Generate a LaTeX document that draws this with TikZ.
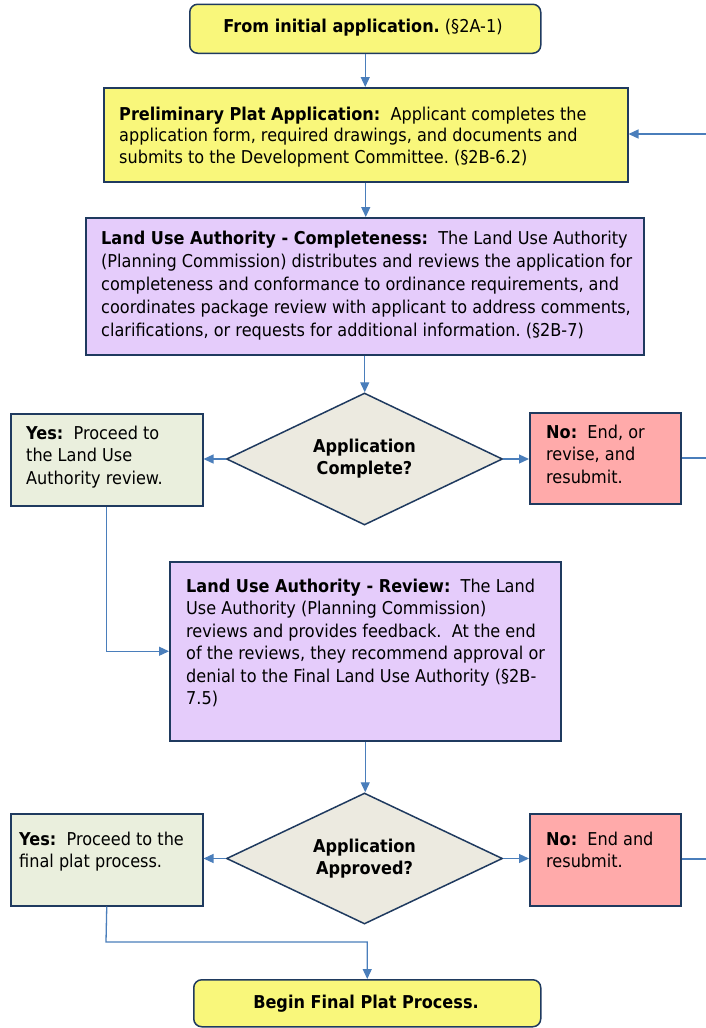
\documentclass[tikz,border=0pt]{standalone}
\usepackage{fontspec}
\setmainfont{DejaVu Sans}[FakeStretch=0.91]
\usetikzlibrary{arrows.meta,shapes.geometric}

\definecolor{edgeblue}{HTML}{4A7EBB}
\definecolor{frame}{HTML}{1F3A5F}
\definecolor{paleyellow}{HTML}{F9F77B}
\definecolor{lilac}{HTML}{E5CCFB}
\definecolor{rose}{HTML}{FFAAAA}
\definecolor{sage}{HTML}{EAEFDD}
\definecolor{stone}{HTML}{ECEAE0}

\newcommand{\gap}{\ \ }

\tikzset{
  panel/.style={draw=frame, line width=1.5pt, inner sep=0pt, anchor=north west},
  roundpanel/.style={panel, rounded corners=8pt},
  decision/.style={diamond, aspect=2.1, draw=frame, line width=1.5pt, fill=stone, inner sep=0pt,
    minimum width=276pt, align=center,
    font=\fontsize{17.7}{22}\selectfont\bfseries},
  label/.style={inner sep=0pt, anchor=base west, font=\fontsize{17.7}{22.5}\selectfont},
  caption/.style={inner sep=0pt, anchor=base, font=\fontsize{17.7}{22}\selectfont},
  link/.style={draw=edgeblue, line width=1.3pt},
  flow/.style={link, -{Triangle[length=10pt,width=9pt]}}
}

\begin{document}
\frenchspacing
\begin{tikzpicture}[x=1pt,y=-1pt]
\fill[white] (0,0) rectangle (706,1028);
\useasboundingbox (0,0) rectangle (706,1028);

% start and end terminals
\node[roundpanel, fill=paleyellow, minimum width=351pt, minimum height=49pt] (start) at (189,3.5) {};
\node[caption] (starttext) at (363,32) {{\bfseries From initial application.} (§2A-1)};

\node[roundpanel, fill=paleyellow, minimum width=347pt, minimum height=47pt] (finish) at (193,979) {};
\node[caption] (finishtext) at (366,1008) {\bfseries Begin Final Plat Process.};

% process boxes
\node[panel, fill=paleyellow, minimum width=524pt, minimum height=94pt] (prelim) at (103,87) {};
\node[label] (prelimtext) at (119,120) {\parbox[t]{500pt}{\raggedright\fontsize{17.7}{21.7}\selectfont
  {\bfseries Preliminary Plat Application:}\gap Applicant completes the\\
  application form, required drawings, and documents and\\
  submits to the Development Committee. (§2B-6.2)}};

\node[panel, fill=lilac, minimum width=558pt, minimum height=137pt] (complete) at (85,217) {};
\node[label] (completetext) at (101,244) {\parbox[t]{545pt}{\raggedright\fontsize{17.7}{23.2}\selectfont
  {\bfseries Land Use Authority - Completeness:}\gap The Land Use Authority\\
  (Planning Commission) distributes and reviews the application for\\
  completeness and conformance to ordinance requirements, and\\
  coordinates package review with applicant to address comments,\\
  clarifications, or requests for additional information. (§2B-7)}};

\node[panel, fill=lilac, minimum width=391pt, minimum height=179pt] (review) at (169,561) {};
\node[label] (reviewtext) at (186,592) {\parbox[t]{370pt}{\raggedright
  {\bfseries Land Use Authority - Review:}\gap The Land\\
  Use Authority (Planning Commission)\\
  reviews and provides feedback.\gap At the end\\
  of the reviews, they recommend approval or\\
  denial to the Final Land Use Authority (§2B-\\
  7.5)}};

% decision outcomes
\node[panel, fill=sage, minimum width=192pt, minimum height=92pt] (yesA) at (10,413) {};
\node[label] (yesAtext) at (26,439) {\parbox[t]{175pt}{\raggedright
  {\bfseries Yes:}\gap Proceed to\\
  the Land Use\\
  Authority review.}};

\node[panel, fill=rose, minimum width=151pt, minimum height=91pt] (noA) at (529,412) {};
\node[label] (noAtext) at (546,438) {\parbox[t]{130pt}{\raggedright
  {\bfseries No:}\gap End, or\\
  revise, and\\
  resubmit.}};

\node[panel, fill=sage, minimum width=192pt, minimum height=92pt] (yesB) at (10,813) {};
\node[label] (yesBtext) at (19,845) {\parbox[t]{180pt}{\raggedright
  {\bfseries Yes:}\gap Proceed to the\\
  final plat process.}};

\node[panel, fill=rose, minimum width=151pt, minimum height=92pt] (noB) at (529,813) {};
\node[label] (noBtext) at (546,845) {\parbox[t]{130pt}{\raggedright
  {\bfseries No:}\gap End and\\
  resubmit.}};

% decisions
\node[decision, minimum height=132pt] (checkA) at (364.5,459) {Application\\Complete?};
\node[decision, minimum height=131pt] (checkB) at (364.5,858.5) {Application\\Approved?};

% loose ends at the right margin
\coordinate (backin) at (706,134);
\coordinate (outA) at (706,458);
\coordinate (outB) at (706,859);
\coordinate (joinB) at (106,942);

% connectors
\draw[flow] (start.south) -- (start.south |- prelim.north);
\draw[flow] (backin) -- (prelim.east |- backin);
\draw[flow] (prelim.south) -- (prelim.south |- complete.north);
\draw[flow] (complete.south) -- (complete.south |- checkA.north);
\draw[flow] (checkA.west) -- (checkA.west -| yesA.east);
\draw[flow] (checkA.east) -- (checkA.east -| noA.west);
\draw[link] (noA.east |- outA) -- (outA);
\draw[flow] (yesA.south) |- (review.west);
\draw[flow] (review.south) -- (review.south |- checkB.north);
\draw[flow] (checkB.west) -- (checkB.west -| yesB.east);
\draw[flow] (checkB.east) -- (checkB.east -| noB.west);
\draw[link] (noB.east |- outB) -- (outB);
\draw[flow] (yesB.south) -- (joinB) -| (finish.north);
\end{tikzpicture}
\end{document}
